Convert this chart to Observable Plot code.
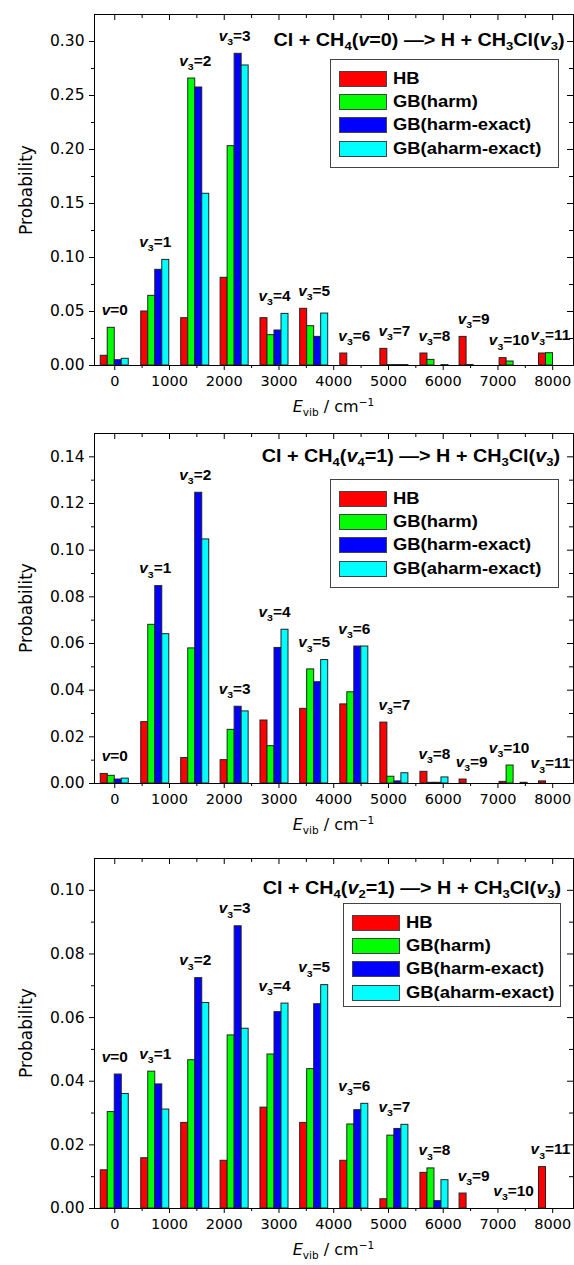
<!DOCTYPE html>
<html>
<head>
<meta charset="utf-8">
<script src="https://cdn.jsdelivr.net/npm/d3@7"></script>
<script src="https://cdn.jsdelivr.net/npm/@observablehq/plot@0.6"></script>
<style>
  html, body { margin: 0; padding: 0; background: #fff; }
  body { font-family: "DejaVu Sans", sans-serif; color: #000; width: 574px; }
  .panel { position: relative; width: 574px; }
  .panel svg { display: block; }
  .title { position: absolute; font-family: "Liberation Sans", Arial, sans-serif; font-weight: bold; font-size: 17.5px; white-space: nowrap; line-height: 1;
           transform: translateY(-50%) scaleX(1.13); transform-origin: 100% 50%; }
  .sb { font-size: 0.66em; position: relative; top: 0.38em; }
  .sp { font-size: 0.66em; position: relative; top: -0.55em; }
  .legend { position: absolute; box-sizing: border-box; border: 1px solid #444; background: #fff; padding-top: 7px; }
  .legend .row { display: flex; align-items: center; height: 23.3px; padding-left: 8px; white-space: nowrap; }
  .legend .sw { width: 48px; height: 16px; box-sizing: border-box; border: 1px solid #444; margin-right: 6px; flex: none; }
  .legend .lt { display: inline-block; font-family: "Liberation Sans", Arial, sans-serif; font-weight: bold; font-size: 16px; line-height: 1;
                transform: scaleX(1.15); transform-origin: 0 50%; }
  .ylab { position: absolute; font-size: 17px; white-space: nowrap; transform: translate(-50%, -50%) rotate(-90deg); line-height: 1; }
  .xlab { position: absolute; font-size: 16px; white-space: nowrap; transform: translate(-50%, -50%); line-height: 1; }
</style>
</head>
<body>
<div id="chart"></div>
<script>
// ---------- data ----------
const energies = [0, 740, 1470, 2190, 2918, 3643, 4376, 5108, 5840, 6555, 7286, 8006];
const series = ["HB", "GB(harm)", "GB(harm-exact)", "GB(aharm-exact)"];
const seriesColors = ["#ff0000", "#00ff00", "#0000ff", "#00ffff"];
const stateLabels = ["v=0", "v3=1", "v3=2", "v3=3", "v3=4", "v3=5", "v3=6", "v3=7", "v3=8", "v3=9", "v3=10", "v3=11"];

// Panel 1: Cl + CH4(v=0)
const p1_HB            = [0.0090, 0.0500, 0.0438, 0.0812, 0.0438, 0.0525, 0.0111, 0.0154, 0.0111, 0.0265, 0.0068, 0.0111];
const p1_GBharm        = [0.0349, 0.0645, 0.2657, 0.2031, 0.0281, 0.0364, 0.0000, 0.0004, 0.0052, 0.0005, 0.0037, 0.0114];
const p1_GBharmExact   = [0.0049, 0.0886, 0.2574, 0.2886, 0.0324, 0.0265, 0.0000, 0.0004, 0.0000, 0.0000, 0.0000, 0.0000];
const p1_GBaharmExact  = [0.0062, 0.0978, 0.1590, 0.2778, 0.0478, 0.0481, 0.0000, 0.0004, 0.0004, 0.0000, 0.0000, 0.0000];

// Panel 2: Cl + CH4(v4=1)
const p2_HB            = [0.0041, 0.0263, 0.0109, 0.0100, 0.0270, 0.0320, 0.0339, 0.0261, 0.0050, 0.0017, 0.0007, 0.0009];
const p2_GBharm        = [0.0033, 0.0680, 0.0579, 0.0230, 0.0160, 0.0489, 0.0391, 0.0029, 0.0003, 0.0000, 0.0077, 0.0000];
const p2_GBharmExact   = [0.0017, 0.0846, 0.1246, 0.0329, 0.0581, 0.0434, 0.0587, 0.0009, 0.0003, 0.0000, 0.0000, 0.0000];
const p2_GBaharmExact  = [0.0021, 0.0640, 0.1046, 0.0309, 0.0659, 0.0529, 0.0587, 0.0044, 0.0026, 0.0000, 0.0003, 0.0000];

// Panel 3: Cl + CH4(v2=1)
const p3_HB            = [0.0120, 0.0158, 0.0269, 0.0150, 0.0317, 0.0269, 0.0150, 0.0029, 0.0112, 0.0047, 0.0000, 0.0130];
const p3_GBharm        = [0.0303, 0.0430, 0.0466, 0.0544, 0.0484, 0.0438, 0.0264, 0.0229, 0.0126, 0.0000, 0.0000, 0.0000];
const p3_GBharmExact   = [0.0421, 0.0390, 0.0724, 0.0887, 0.0617, 0.0642, 0.0309, 0.0250, 0.0023, 0.0000, 0.0000, 0.0000];
const p3_GBaharmExact  = [0.0360, 0.0311, 0.0646, 0.0565, 0.0644, 0.0702, 0.0329, 0.0263, 0.0089, 0.0000, 0.0000, 0.0000];

// ticks
const xTicks = [0, 1000, 2000, 3000, 4000, 5000, 6000, 7000, 8000];
const xMinorTicks = [500, 1500, 2500, 3500, 4500, 5500, 6500, 7500];
const p1_yTicks = [0, 0.05, 0.10, 0.15, 0.20, 0.25, 0.30];
const p1_yMinor = [0.025, 0.075, 0.125, 0.175, 0.225, 0.275];
const p2_yTicks = [0, 0.02, 0.04, 0.06, 0.08, 0.10, 0.12, 0.14];
const p2_yMinor = [0.01, 0.03, 0.05, 0.07, 0.09, 0.11, 0.13];
const p3_yTicks = [0, 0.02, 0.04, 0.06, 0.08, 0.10];
const p3_yMinor = [0.01, 0.03, 0.05, 0.07, 0.09];

// text
const titles = [
  'Cl + CH<span class="sb">4</span>(<i>v</i>=0) —&gt; H + CH<span class="sb">3</span>Cl(<i>v</i><span class="sb">3</span>)',
  'Cl + CH<span class="sb">4</span>(<i>v</i><span class="sb">4</span>=1) —&gt; H + CH<span class="sb">3</span>Cl(<i>v</i><span class="sb">3</span>)',
  'Cl + CH<span class="sb">4</span>(<i>v</i><span class="sb">2</span>=1) —&gt; H + CH<span class="sb">3</span>Cl(<i>v</i><span class="sb">3</span>)'
];
const yLabel = "Probability";
const xLabelHTML = '<i>E</i><span class="sb">vib</span> / cm<span class="sp">−1</span>';

// ---------- layout ----------
const W = 574, ML = 94, MR = 1, MT = 14;
const BAR = 128;          // bar width in cm^-1
const LABEL_STRETCH = 1.1;
const panels = [
  {values: [p1_HB, p1_GBharm, p1_GBharmExact, p1_GBaharmExact], yMax: 0.325, yTicks: p1_yTicks, yMinor: p1_yMinor,
   height: 419, mb: 54, title: titles[0], titleY: 41, titleRight: 9, legend: {left: 330, top: 59, width: 229, height: 109}},
  {values: [p2_HB, p2_GBharm, p2_GBharmExact, p2_GBaharmExact], yMax: 0.15, yTicks: p2_yTicks, yMinor: p2_yMinor,
   height: 425, mb: 61, title: titles[1], titleY: 38, titleRight: 14, legend: {left: 330, top: 60, width: 229, height: 109}},
  {values: [p3_HB, p3_GBharm, p3_GBharmExact, p3_GBaharmExact], yMax: 0.11, yTicks: p3_yTicks, yMinor: p3_yMinor,
   height: 421, mb: 57, title: titles[2], titleY: 45, titleRight: 13, legend: {left: 343, top: 59, width: 218, height: 104}}
];

function richLabel(node) {
  const s = node.textContent;
  const m = s.match(/^v(\d?)(=.*)$/);
  if (!m) return;
  node.textContent = "";
  const sel = d3.select(node);
  sel.append("tspan").attr("font-style", "italic").text("v");
  if (m[1]) {
    sel.append("tspan").attr("font-size", "9.5px").attr("dy", "4.5").text(m[1]);
    sel.append("tspan").attr("dy", "-4.5").text(m[2]);
  } else {
    sel.append("tspan").text(m[2]);
  }
}

function parseTranslate(t) {
  const m = (t || "").match(/translate\(([-\d.e]+)[,\s]+([-\d.e]+)\)/);
  return m ? [+m[1], +m[2]] : [0, 0];
}

// stretch state labels, keep them inside the frame and apart from each other
function fitLabels(svg, rightLimit) {
  const nodes = Array.from(svg.querySelectorAll('g[aria-label="text"] text'));
  const pos = nodes.map(n => parseTranslate(n.getAttribute("transform")));
  const boxes = nodes.map(n => n.getBBox());
  const abs = boxes.map((b, i) => ({
    x1: pos[i][0] + b.x * LABEL_STRETCH, x2: pos[i][0] + (b.x + b.width) * LABEL_STRETCH,
    y1: pos[i][1] + b.y, y2: pos[i][1] + b.y + b.height
  }));
  const shift = nodes.map(() => 0);
  for (let i = nodes.length - 1; i >= 0; i--) {
    let limit = rightLimit;
    if (i < nodes.length - 1) {
      const nb = abs[i + 1];
      const vo = abs[i].y2 > nb.y1 + 2 && abs[i].y1 < nb.y2 - 2;
      if (vo) limit = Math.min(limit, nb.x1 + shift[i + 1] - 1);
    }
    const over = abs[i].x2 - limit;
    if (over > 0) shift[i] = -over;
  }
  nodes.forEach((n, i) => {
    n.setAttribute("transform", `translate(${(pos[i][0] + shift[i]).toFixed(2)},${pos[i][1].toFixed(2)}) scale(${LABEL_STRETCH},1)`);
  });
}

const root = document.getElementById("chart");

panels.forEach((P) => {
  const plotH = P.height - MT - P.mb;
  const plotW = W - ML - MR;
  const rows = [];
  energies.forEach((e, i) => series.forEach((s, j) => rows.push({energy: e, idx: j, series: s, p: P.values[j][i]})));
  const labelRows = energies.map((e, i) => ({energy: e, top: Math.max(...P.values.map(v => v[i])), label: stateLabels[i]}));

  const svg = Plot.plot({
    width: W, height: P.height,
    marginLeft: ML, marginRight: MR, marginTop: MT, marginBottom: P.mb,
    style: {fontFamily: "DejaVu Sans, sans-serif", fontSize: "14.5px", color: "#000", background: "#fff"},
    x: {domain: [-370, 8380]},
    y: {domain: [0, P.yMax]},
    color: {domain: series, range: seriesColors},
    marks: [
      Plot.rectY(rows, {
        x1: d => d.energy + (d.idx - 2) * BAR,
        x2: d => d.energy + (d.idx - 1) * BAR,
        y: "p", fill: "series", stroke: "#222", strokeWidth: 1
      }),
      Plot.text(labelRows, {x: "energy", y: "top", text: "label", dy: -13, lineAnchor: "bottom",
        fontFamily: "Liberation Sans, Arial, sans-serif", fontWeight: "bold", fontSize: 14, fill: "#000"}),
      Plot.axisX({ticks: xTicks, tickSize: 5, tickPadding: 5, tickFormat: d3.format("d"), label: null, fontSize: 14.5}),
      Plot.axisX({ticks: xMinorTicks, tickSize: 3, text: null, label: null}),
      Plot.axisY({ticks: P.yTicks, tickSize: 5, tickPadding: 5, tickFormat: d3.format(".2f"), label: null, fontSize: 15.5}),
      Plot.axisY({ticks: P.yMinor, tickSize: 3, text: null, label: null}),
      Plot.tickX(xTicks, {x: d => d, insetBottom: plotH - 6, stroke: "#000"}),
      Plot.tickX(xMinorTicks, {x: d => d, insetBottom: plotH - 4, stroke: "#000"}),
      Plot.tickY(P.yTicks, {y: d => d, insetLeft: plotW - 6, stroke: "#000"}),
      Plot.tickY(P.yMinor, {y: d => d, insetLeft: plotW - 4, stroke: "#000"}),
      Plot.frame({stroke: "#000"})
    ]
  });

  d3.select(svg).selectAll('g[aria-label="text"] text').each(function() { richLabel(this); });

  const panel = document.createElement("div");
  panel.className = "panel";
  panel.style.height = P.height + "px";
  panel.appendChild(svg);

  const t = document.createElement("div");
  t.className = "title";
  t.style.right = P.titleRight + "px";
  t.style.top = P.titleY + "px";
  t.innerHTML = P.title;
  panel.appendChild(t);

  const lg = document.createElement("div");
  lg.className = "legend";
  Object.assign(lg.style, {left: P.legend.left + "px", top: P.legend.top + "px", width: P.legend.width + "px", height: P.legend.height + "px"});
  series.forEach((s, j) => {
    const r = document.createElement("div");
    r.className = "row";
    const sw = document.createElement("span");
    sw.className = "sw";
    sw.style.background = seriesColors[j];
    r.appendChild(sw);
    const lt = document.createElement("span");
    lt.className = "lt";
    lt.textContent = s;
    r.appendChild(lt);
    lg.appendChild(r);
  });
  panel.appendChild(lg);

  const yl = document.createElement("div");
  yl.className = "ylab";
  yl.style.left = "26px";
  yl.style.top = (MT + plotH / 2) + "px";
  yl.textContent = yLabel;
  panel.appendChild(yl);

  const xl = document.createElement("div");
  xl.className = "xlab";
  xl.style.left = (ML + plotW / 2) + "px";
  xl.style.top = (MT + plotH + 42) + "px";
  xl.innerHTML = xLabelHTML;
  panel.appendChild(xl);

  root.appendChild(panel);
  fitLabels(svg, W - MR - 3);
});
</script>
</body>
</html>
